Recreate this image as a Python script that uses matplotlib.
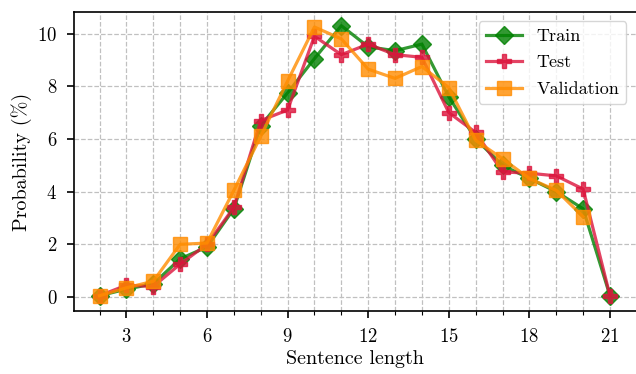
import numpy as np
import matplotlib
matplotlib.use("Agg")
import matplotlib.pyplot as plt
from matplotlib.ticker import MultipleLocator

# Data
lengths = list(range(2, 22))
train = [0.05, 0.3, 0.5, 1.45, 1.9, 3.35, 6.5, 7.75, 9.05, 10.3,
         9.5, 9.35, 9.6, 7.6, 6.0, 5.0, 4.5, 4.0, 3.35, 0.05]
test = [0.05, 0.45, 0.4, 1.25, 2.0, 3.4, 6.7, 7.1, 9.9, 9.2,
        9.6, 9.2, 9.1, 7.0, 6.25, 4.75, 4.7, 4.6, 4.1, 0.05]
val_lengths = list(range(2, 21))
validation = [0.05, 0.35, 0.6, 2.0, 2.05, 4.05, 6.1, 8.2, 10.25, 9.8,
              8.65, 8.3, 8.75, 7.95, 5.95, 5.25, 4.5, 4.05, 3.05]

plt.rcParams["font.family"] = "serif"
plt.rcParams["font.serif"] = ["cmr10"]
plt.rcParams["mathtext.fontset"] = "cm"
plt.rcParams["axes.formatter.use_mathtext"] = True
plt.rcParams["axes.unicode_minus"] = False

fig = plt.figure(figsize=(6.36, 3.74), dpi=100)
ax = fig.add_axes([74 / 636, 1 - 311 / 374, (635.5 - 74) / 636, (311 - 12) / 374])

ax.plot(lengths, train, "-D", color="green", alpha=0.8, lw=2.3, ms=9, label="Train")
ax.plot(lengths, test, "-P", color="crimson", alpha=0.8, lw=2.3, ms=10, label="Test")
ax.plot(val_lengths, validation, "-s", color="darkorange", alpha=0.8, lw=2.3, ms=10,
        label="Validation")

ax.set_xlim(1.05, 21.95)
ax.set_ylim(-0.53, 10.82)
ax.xaxis.set_major_locator(MultipleLocator(3))
ax.xaxis.set_minor_locator(MultipleLocator(1))
ax.yaxis.set_major_locator(MultipleLocator(2))

ax.grid(True, which="major", ls="--", color="#c0c0c0", lw=0.9)
ax.grid(True, which="minor", axis="x", ls="--", color="#c0c0c0", lw=0.9)
ax.set_axisbelow(True)
ax.spines["right"].set_visible(False)
for s in ["left", "bottom", "top"]:
    ax.spines[s].set_linewidth(1.2)

ax.tick_params(which="major", labelsize=13.5, length=5, width=1.2, pad=7)
ax.tick_params(which="minor", length=3, width=0.8)

ax.set_xlabel("Sentence length", fontsize=14.5, labelpad=3)
ax.set_ylabel("Probability (%)", fontsize=14.5, labelpad=4)
ax.legend(loc="upper right", fontsize=13, framealpha=0.8, labelspacing=0.6)

fig.savefig("out.png", dpi=100)
